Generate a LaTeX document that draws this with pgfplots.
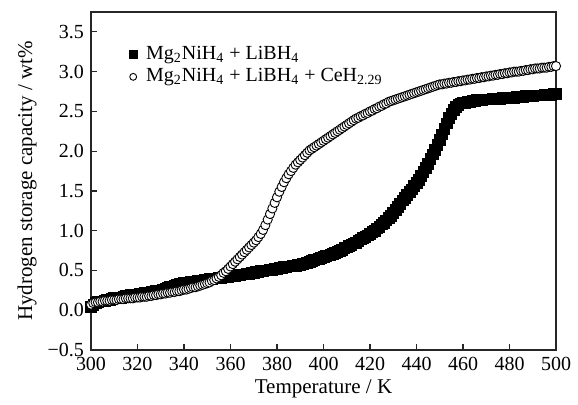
\documentclass[border=0pt]{standalone}
\usepackage{pgfplots}
\usepackage{pgfplotstable}
\pgfplotsset{compat=1.18}
\usepackage{fontspec}
\setmainfont{Liberation Serif}
\pgfplotstableread{
T y
300 0.04
301 0.07
302 0.09
303 0.10
304 0.11
305 0.11
306 0.12
307 0.13
308 0.13
309 0.14
310 0.15
311 0.15
312 0.16
313 0.16
314 0.17
315 0.18
316 0.18
317 0.19
318 0.19
319 0.20
320 0.20
321 0.21
322 0.21
323 0.22
324 0.22
325 0.22
326 0.23
327 0.23
328 0.24
329 0.25
330 0.25
331 0.26
332 0.27
333 0.28
334 0.29
335 0.30
336 0.31
337 0.32
338 0.33
339 0.33
340 0.34
341 0.35
342 0.35
343 0.36
344 0.36
345 0.36
346 0.37
347 0.37
348 0.37
349 0.38
350 0.38
351 0.39
352 0.39
353 0.40
354 0.40
355 0.41
356 0.41
357 0.42
358 0.42
359 0.42
360 0.43
361 0.43
362 0.43
363 0.44
364 0.44
365 0.45
366 0.45
367 0.46
368 0.46
369 0.47
370 0.47
371 0.48
372 0.48
373 0.49
374 0.49
375 0.50
376 0.50
377 0.51
378 0.51
379 0.52
380 0.52
381 0.53
382 0.53
383 0.54
384 0.54
385 0.55
386 0.55
387 0.56
388 0.56
389 0.57
390 0.57
391 0.58
392 0.59
393 0.60
394 0.61
395 0.62
396 0.63
397 0.64
398 0.65
399 0.66
400 0.67
401 0.68
402 0.69
403 0.70
404 0.71
405 0.72
406 0.73
407 0.75
408 0.76
409 0.78
410 0.79
411 0.81
412 0.82
413 0.84
414 0.85
415 0.87
416 0.89
417 0.91
418 0.92
419 0.94
420 0.96
421 0.98
422 1.00
423 1.03
424 1.05
425 1.08
426 1.10
427 1.13
428 1.16
429 1.19
430 1.22
431 1.26
432 1.30
433 1.34
434 1.38
435 1.41
436 1.45
437 1.49
438 1.52
439 1.56
440 1.60
441 1.64
442 1.69
443 1.74
444 1.79
445 1.84
446 1.90
447 1.96
448 2.02
449 2.08
450 2.14
451 2.21
452 2.28
453 2.35
454 2.42
455 2.47
456 2.52
457 2.56
458 2.58
459 2.60
460 2.61
461 2.61
462 2.62
463 2.62
464 2.63
465 2.63
466 2.64
467 2.64
468 2.64
469 2.65
470 2.65
471 2.65
472 2.65
473 2.66
474 2.66
475 2.66
476 2.66
477 2.67
478 2.67
479 2.67
480 2.67
481 2.67
482 2.67
483 2.68
484 2.68
485 2.68
486 2.68
487 2.69
488 2.69
489 2.69
490 2.69
491 2.70
492 2.70
493 2.70
494 2.70
495 2.71
496 2.71
497 2.71
498 2.71
499 2.72
500 2.72
}\squares
\pgfplotstableread{
T y
300 0.07
301 0.09
302 0.10
303 0.10
304 0.11
305 0.11
306 0.12
307 0.12
308 0.12
309 0.13
310 0.13
311 0.13
312 0.14
313 0.14
314 0.14
315 0.15
316 0.15
317 0.15
318 0.15
319 0.16
320 0.16
321 0.16
322 0.17
323 0.17
324 0.17
325 0.18
326 0.18
327 0.19
328 0.19
329 0.20
330 0.20
331 0.21
332 0.21
333 0.22
334 0.22
335 0.23
336 0.23
337 0.24
338 0.24
339 0.25
340 0.26
341 0.26
342 0.27
343 0.28
344 0.29
345 0.29
346 0.30
347 0.31
348 0.32
349 0.33
350 0.34
351 0.35
352 0.37
353 0.38
354 0.40
355 0.42
356 0.44
357 0.47
358 0.49
359 0.52
360 0.55
361 0.58
362 0.61
363 0.64
364 0.67
365 0.70
366 0.73
367 0.76
368 0.79
369 0.82
370 0.85
371 0.88
372 0.92
373 0.96
374 1.01
375 1.07
376 1.14
377 1.21
378 1.28
379 1.35
380 1.42
381 1.49
382 1.55
383 1.61
384 1.66
385 1.71
386 1.75
387 1.79
388 1.83
389 1.86
390 1.89
391 1.92
392 1.95
393 1.98
394 2.01
395 2.03
396 2.05
397 2.07
398 2.09
399 2.11
400 2.13
401 2.15
402 2.17
403 2.19
404 2.21
405 2.23
406 2.25
407 2.27
408 2.29
409 2.31
410 2.33
411 2.35
412 2.37
413 2.39
414 2.41
415 2.42
416 2.44
417 2.45
418 2.47
419 2.48
420 2.50
421 2.51
422 2.53
423 2.54
424 2.56
425 2.57
426 2.59
427 2.60
428 2.62
429 2.63
430 2.64
431 2.65
432 2.66
433 2.67
434 2.68
435 2.69
436 2.70
437 2.71
438 2.72
439 2.73
440 2.74
441 2.75
442 2.76
443 2.77
444 2.78
445 2.79
446 2.80
447 2.81
448 2.82
449 2.83
450 2.84
451 2.84
452 2.85
453 2.85
454 2.86
455 2.86
456 2.87
457 2.87
458 2.88
459 2.88
460 2.89
461 2.89
462 2.90
463 2.90
464 2.91
465 2.91
466 2.92
467 2.92
468 2.93
469 2.93
470 2.94
471 2.94
472 2.95
473 2.95
474 2.96
475 2.96
476 2.97
477 2.97
478 2.98
479 2.98
480 2.99
481 2.99
482 3.00
483 3.00
484 3.00
485 3.01
486 3.01
487 3.02
488 3.02
489 3.03
490 3.03
491 3.04
492 3.04
493 3.04
494 3.05
495 3.05
496 3.05
497 3.06
498 3.06
499 3.07
500 3.07
}\circles
\begin{document}
\begin{tikzpicture}
\begin{axis}[
  scale only axis,
  width=232.5pt, height=169pt,
  xmin=300, xmax=500, ymin=-0.5, ymax=3.75,
  xtick={300,320,...,500},
  ytick={-0.5,0,0.5,1,1.5,2,2.5,3,3.5},
  yticklabels={−0.5,0.0,0.5,1.0,1.5,2.0,2.5,3.0,3.5},
  /pgf/number format/assume math mode=true,
  xtick pos=bottom, ytick pos=left,
  tick align=inside,
  major tick length=3pt,
  axis line style={line width=0.6pt, black!85},
  every tick/.style={line width=0.6pt, black!85},
  font=\fontsize{10}{12}\selectfont,
  ticklabel style={font=\fontsize{10}{12}\selectfont},
  label style={font=\fontsize{10.5}{12}\selectfont},
  xlabel={Temperature / K},
  ylabel={Hydrogen storage capacity / wt\%},
  xlabel style={at={(axis description cs:0.5,-0.116)}, anchor=center},
  ylabel style={at={(axis description cs:-0.1376,0.5)}, anchor=center},
  legend style={at={(axis description cs:0.08,0.911)}, anchor=north west, draw=none, fill=none,
    font=\fontsize{10}{11}\selectfont, row sep=-1pt, inner sep=0pt},
  legend cell align=left,
  legend image code/.code={\path[draw=none,fill=none] (0pt,0pt) -- (6.8pt,0pt); \draw[#1, every mark/.append style={scale=0.75}] plot coordinates {(2.3pt,0pt)};},
]
\addplot[only marks, mark=square*, mark size=2.7pt, mark options={fill=black, draw=black}] table[x=T,y=y] {\squares};
\addlegendentry{Mg\textsubscript{2}NiH\textsubscript{4} + LiBH\textsubscript{4}}
\addplot[only marks, mark=*, mark size=2.3pt, mark options={fill=white, draw=black, line width=0.45pt}] table[x=T,y=y] {\circles};
\addlegendentry{Mg\textsubscript{2}NiH\textsubscript{4} + LiBH\textsubscript{4} + CeH\textsubscript{2.29}}
\end{axis}
\pgfresetboundingbox
\path (-45.5pt,-27.5pt) rectangle (243.5pt,175pt);
\end{tikzpicture}
\end{document}
